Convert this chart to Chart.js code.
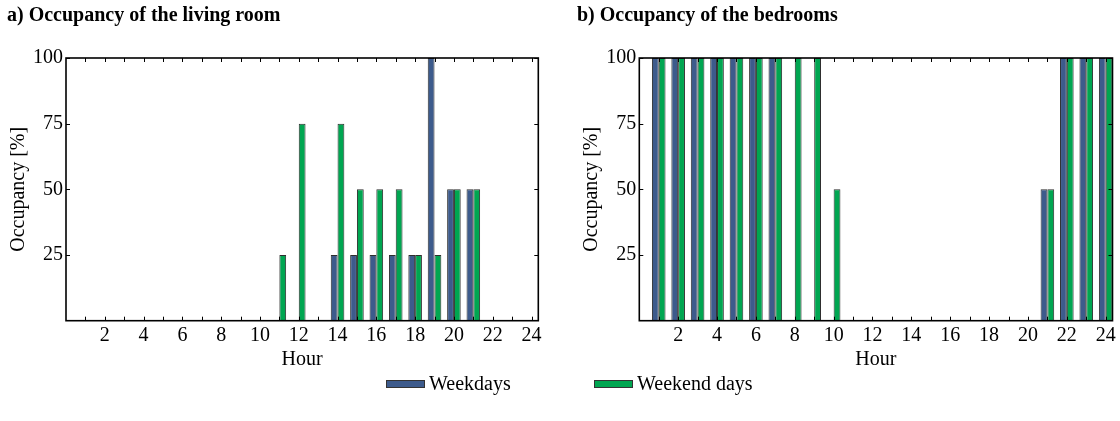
<!DOCTYPE html>
<html><head><meta charset="utf-8">
<script src="https://cdn.jsdelivr.net/npm/chart.js@4/dist/chart.umd.min.js"></script>
<style>
html,body{margin:0;padding:0;background:#fff;}
#wrap{position:relative;width:1120px;height:421px;overflow:hidden;font-family:"Liberation Serif",serif;color:#000;}
canvas{position:absolute;top:0;}
.title{position:absolute;top:3px;font-weight:bold;font-size:20px;white-space:nowrap;}
.leg{position:absolute;top:372px;font-size:20px;display:flex;align-items:center;white-space:nowrap;}
.box{display:inline-block;width:37px;height:6px;border:1px solid #333;margin-right:4px;}
</style></head>
<body>
<div id="wrap">
  <canvas id="c1" width="560" height="421" style="left:0"></canvas>
  <canvas id="c2" width="560" height="421" style="left:560px"></canvas>
  <div class="title" style="left:7px" id="t1"></div>
  <div class="title" style="left:577px" id="t2"></div>
  <div class="leg" style="left:386px"><span class="box" id="lb1"></span><span id="lt1"></span></div>
  <div class="leg" style="left:594px"><span class="box" id="lb2"></span><span id="lt2"></span></div>
</div>
<script>
const hours = [1,2,3,4,5,6,7,8,9,10,11,12,13,14,15,16,17,18,19,20,21,22,23,24];
const seriesNames = ['Weekdays','Weekend days'];
const livingWeekdays = [0,0,0,0,0,0,0,0,0,0,0,0,0,25,25,25,25,25,100,50,50,0,0,0];
const livingWeekend  = [0,0,0,0,0,0,0,0,0,0,25,75,0,75,50,50,50,25,25,50,50,0,0,0];
const bedWeekdays    = [100,100,100,100,100,100,100,0,0,0,0,0,0,0,0,0,0,0,0,0,50,100,100,100];
const bedWeekend     = [100,100,100,100,100,100,100,100,100,50,0,0,0,0,0,0,0,0,0,0,50,100,100,100];
const xTickValues = [2,4,6,8,10,12,14,16,18,20,22,24];
const yTickValues = [25,50,75,100];
const titles = ['a) Occupancy of the living room','b) Occupancy of the bedrooms'];

const BLUE = '#3d5b8c', GREEN = '#00a651', EDGE = '#2e2e2e';
document.getElementById('t1').textContent = titles[0];
document.getElementById('t2').textContent = titles[1];
document.getElementById('lb1').style.background = BLUE;
document.getElementById('lb2').style.background = GREEN;
document.getElementById('lt1').textContent = seriesNames[0];
document.getElementById('lt2').textContent = seriesNames[1];

const FONT = {family:'"Liberation Serif", serif', size:20};

const framePlugin = {
  id:'frame',
  afterDatasetsDraw(chart){
    const {ctx, chartArea:a, scales:{x,y}} = chart;
    ctx.save();
    ctx.strokeStyle = '#000';
    ctx.lineWidth = 1;
    ctx.beginPath();
    hours.forEach(h => {
      const px = Math.round(x.getPixelForValue(h)) + 0.5;
      ctx.moveTo(px, a.top); ctx.lineTo(px, a.top + 4);
      ctx.moveTo(px, a.bottom); ctx.lineTo(px, a.bottom - 4);
    });
    yTickValues.forEach(v => {
      const py = Math.round(y.getPixelForValue(v)) + 0.5;
      ctx.moveTo(a.left, py); ctx.lineTo(a.left + 4, py);
      ctx.moveTo(a.right, py); ctx.lineTo(a.right - 4, py);
    });
    ctx.stroke();
    ctx.lineWidth = 1.6;
    ctx.strokeRect(a.left, a.top, a.right - a.left, a.bottom - a.top);
    ctx.restore();
  }
};

function makeChart(id, wd, we, yWidth, rightPad, yTitlePad){
  const toPts = vals => hours.map((h,i) => ({x:h, y:vals[i]}));
  return new Chart(document.getElementById(id), {
    type:'bar',
    data:{datasets:[
      {label:seriesNames[0], data:toPts(wd), backgroundColor:BLUE, borderColor:EDGE, borderWidth:1, barPercentage:1, categoryPercentage:0.7},
      {label:seriesNames[1], data:toPts(we), backgroundColor:GREEN, borderColor:EDGE, borderWidth:1, barPercentage:1, categoryPercentage:0.7}
    ]},
    options:{
      responsive:false, animation:false,
      layout:{padding:{left:0, top:58, right:rightPad, bottom:0}},
      plugins:{legend:{display:false}, tooltip:{enabled:false}},
      scales:{
        x:{type:'linear', min:0, max:24.35, offset:false,
           grid:{display:false, drawTicks:false, offset:false}, border:{display:false},
           ticks:{autoSkip:false, maxRotation:0, color:'#000', font:FONT, padding:3, callback:v=>String(v)},
           afterBuildTicks:s=>{ s.ticks = xTickValues.map(v=>({value:v})); },
           afterFit:s=>{ s.height = 100.3; s.paddingLeft = 0; s.paddingRight = 0; },
           title:{display:true, text:'Hour', color:'#000', font:FONT, padding:{top:0, bottom:49}}
        },
        y:{type:'linear', min:0, max:100,
           grid:{display:false, drawTicks:false}, border:{display:false},
           ticks:{color:'#000', font:FONT, padding:3, callback:v=>String(v)},
           afterBuildTicks:s=>{ s.ticks = yTickValues.map(v=>({value:v})); },
           afterFit:s=>{ s.width = yWidth; s.paddingTop = 0; s.paddingBottom = 0; },
           title:{display:true, text:'Occupancy [%]', color:'#000', font:FONT, padding:{top:yTitlePad, bottom:0}}
        }
      }
    },
    plugins:[framePlugin]
  });
}
makeChart('c1', livingWeekdays, livingWeekend, 66, 21.7, 7);
makeChart('c2', bedWeekdays, bedWeekend, 79.3, 7.5, 20);
</script>
</body></html>
